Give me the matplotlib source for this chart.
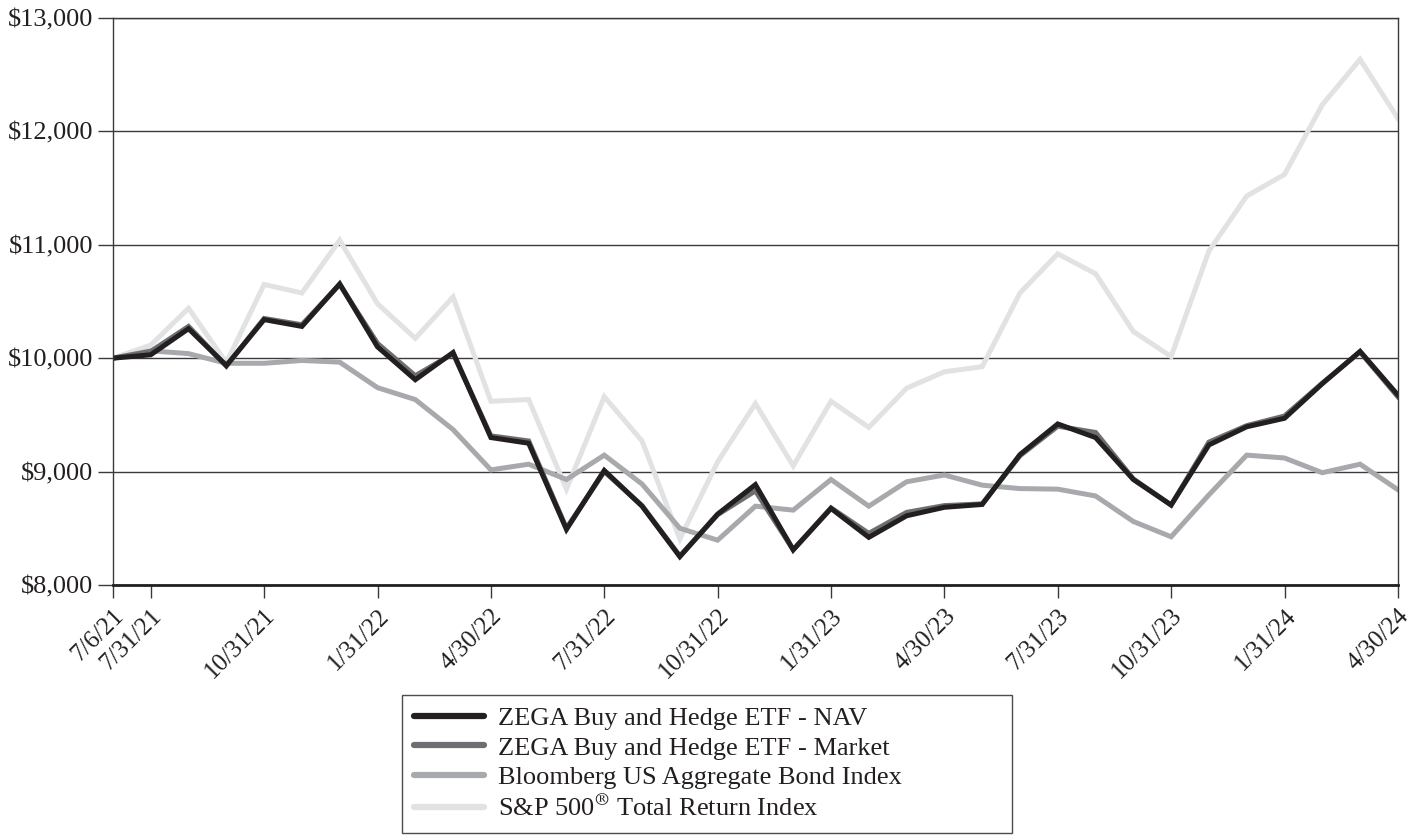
import numpy as np
import matplotlib
matplotlib.use('Agg')
import matplotlib.pyplot as plt
from matplotlib.ticker import FuncFormatter

# month-end observations, equally spaced on the chart
dates = ['7/6/21', '7/31/21', '8/31/21', '9/30/21', '10/31/21', '11/30/21', '12/31/21',
         '1/31/22', '2/28/22', '3/31/22', '4/30/22', '5/31/22', '6/30/22', '7/31/22',
         '8/31/22', '9/30/22', '10/31/22', '11/30/22', '12/31/22', '1/31/23', '2/28/23',
         '3/31/23', '4/30/23', '5/31/23', '6/30/23', '7/31/23', '8/31/23', '9/30/23',
         '10/31/23', '11/30/23', '12/31/23', '1/31/24', '2/29/24', '3/31/24', '4/30/24']

nav = [10000, 10030, 10260, 9935, 10340, 10280, 10655, 10100, 9810, 10050,
       9300, 9250, 8490, 9010, 8695, 8250, 8625, 8885, 8310, 8675,
       8420, 8610, 8685, 8710, 9150, 9420, 9300, 8930, 8705, 9235,
       9395, 9470, 9775, 10060, 9675]
market = [10000, 10060, 10280, 9930, 10350, 10295, 10650, 10130, 9845, 10040,
          9315, 9270, 8500, 9000, 8700, 8255, 8620, 8830, 8310, 8680,
          8455, 8640, 8700, 8715, 9140, 9400, 9345, 8935, 8705, 9260,
          9405, 9490, 9780, 10055, 9660]
bond = [10000, 10065, 10040, 9955, 9955, 9980, 9965, 9740, 9635, 9370,
        9015, 9065, 8930, 9145, 8890, 8500, 8395, 8695, 8660, 8930,
        8695, 8910, 8970, 8880, 8850, 8845, 8785, 8560, 8425, 8795,
        9145, 9120, 8990, 9065, 8840]
sp500 = [10000, 10115, 10440, 9960, 10650, 10575, 11040, 10480, 10175, 10540,
         9620, 9635, 8845, 9660, 9270, 8405, 9085, 9600, 9050, 9620,
         9390, 9735, 9880, 9925, 10575, 10920, 10745, 10235, 10015, 10945,
         11430, 11620, 12235, 12635, 12115]

tick_idx = [0, 1, 4, 7, 10, 13, 16, 19, 22, 25, 28, 31, 34]

series = [
    ('ZEGA Buy and Hedge ETF - NAV', nav, '#231f20'),
    ('ZEGA Buy and Hedge ETF - Market', market, '#6d6e71'),
    ('Bloomberg US Aggregate Bond Index', bond, '#a7a9ac'),
    ('S&P 500$^{\\circledR}$ Total Return Index', sp500, '#e1e2e4'),
]

plt.rcParams['font.family'] = ['Liberation Serif', 'DejaVu Serif']
plt.rcParams['mathtext.fontset'] = 'stix'

fig = plt.figure(figsize=(14.12, 8.4), dpi=100)
ax = fig.add_axes([0.080, 0.3036, 0.910, 0.675])

x = np.arange(len(dates))
# draw light lines first so the fund lines sit on top
for label, vals, col in reversed(series):
    ax.plot(x, vals, color=col, lw=3.6, label=label, solid_joinstyle='miter')

ax.set_xlim(0, len(dates) - 1)
ax.set_ylim(8000, 13000)
ax.set_yticks(np.arange(8000, 13001, 1000))
ax.yaxis.set_major_formatter(FuncFormatter(lambda v, p: '${:,.0f}'.format(v)))
ax.grid(axis='y', color='#3a3a3a', lw=1.0)
ax.set_axisbelow(True)

ax.set_xticks(tick_idx)
ax.set_xticklabels([dates[i] for i in tick_idx], rotation=45, ha='right',
                   rotation_mode='anchor')
ax.tick_params(axis='x', direction='out', length=9, width=1, color='#3a3a3a',
               labelsize=18, pad=5, labelcolor='#231f20')
ax.tick_params(axis='y', direction='out', length=11, width=1, color='#3a3a3a',
               labelsize=19, pad=3, labelcolor='#231f20')

for s in ['left', 'right', 'top']:
    ax.spines[s].set_color('#3a3a3a')
    ax.spines[s].set_linewidth(1.0)
ax.spines['bottom'].set_color('#231f20')
ax.spines['bottom'].set_linewidth(2.0)

handles, labels = ax.get_legend_handles_labels()
leg = fig.legend(handles[::-1], labels[::-1], loc='upper left', mode='expand',
                 bbox_to_anchor=(0.2847, 0.0, 0.432, 0.1726), fontsize=19,
                 frameon=True, fancybox=False, edgecolor='#231f20',
                 handlelength=2.65, handletextpad=0.55, borderpad=0.45,
                 labelspacing=0.22, borderaxespad=0)
leg.get_frame().set_linewidth(1.0)
for t in leg.get_texts():
    t.set_color('#231f20')
for h in leg.get_lines():
    h.set_linewidth(4.5)
    h.set_solid_capstyle('round')

fig.savefig('out.png', dpi=100)
